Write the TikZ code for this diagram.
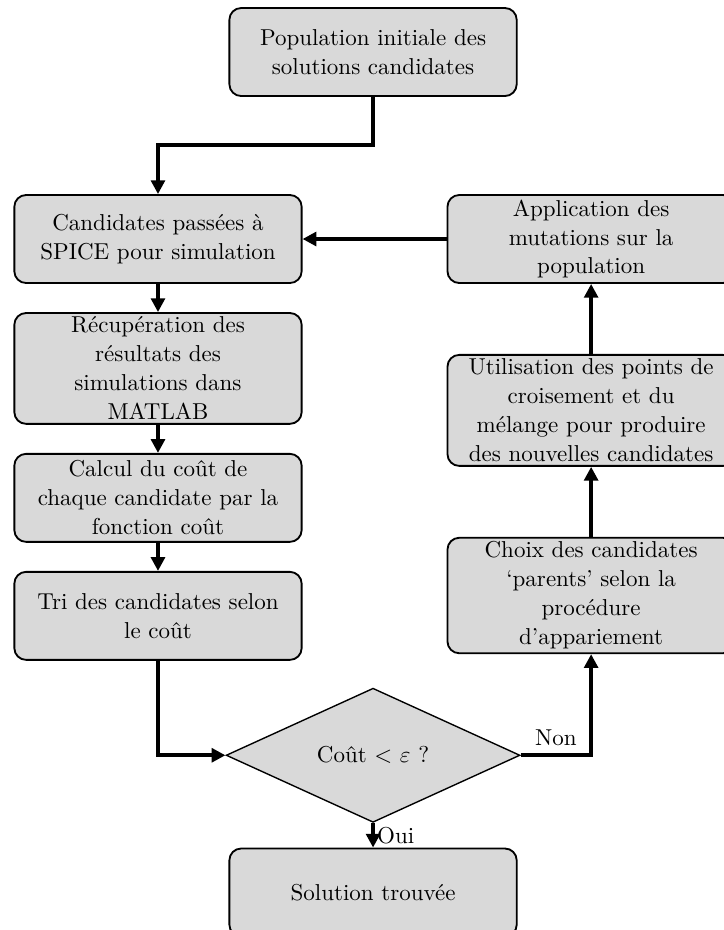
\documentclass[tikz,border=0pt]{standalone}
\usepackage{amsmath}
\usepackage{amssymb}
\usepackage{tikz}
\usepackage{xcolor}
\usetikzlibrary{arrows.meta, positioning, shapes.geometric, calc}
\definecolor{boxgray}{RGB}{217,217,217}
\begin{document}
\begin{tikzpicture}[
    node distance=0.43cm and 2.2cm,
    procbox/.style={draw, thick, rounded corners=0.18cm, align=center, font=\fontsize{10}{12.6}\selectfont, minimum width=4.39cm, minimum height=1.345cm, inner xsep=2pt, inner ysep=0.06cm, fill=boxgray},
    decision/.style={draw, semithick, diamond, minimum width=4.49cm, minimum height=2.05cm, inner sep=0pt, fill=boxgray},
    arr/.style={-{Triangle[length=6pt, width=6pt]}, line width=1.6pt}
]
\useasboundingbox (0,0) rectangle (11.05,-14.21);
\node[procbox] (start) at (5.70,-0.795) {Population initiale des\\solutions candidates};
\node[procbox] (cand) at (2.414,-3.652) {Candidates passées à\\SPICE pour simulation};
\node[procbox, below=of cand] (recup) {Récupération des\\résultats des\\simulations dans\\MATLAB};
\node[procbox, below=of recup] (cost) {Calcul du coût de\\chaque candidate par la\\fonction coût};
\node[procbox, below=of cost] (sort) {Tri des candidates selon\\le coût};
\node[procbox, right=of cand] (mut) {Application des\\mutations sur la\\population};
\node[procbox, below=1.07cm of mut] (cross) {Utilisation des points de\\croisement et du\\mélange pour produire\\des nouvelles candidates};
\node[procbox, below=1.07cm of cross] (choice) {Choix des candidates\\`parents' selon la\\procédure\\d'appariement};
\node[decision] (dec) at (5.70,-11.54) {Coût $<$ $\varepsilon$ ?};
\node[procbox, below=0.375cm of dec] (found) {Solution trouvée};

\draw[arr] (start.south) -- ++(0,-0.73) -| (cand.north);
\draw[arr] (mut.west) -- (cand.east);
\draw[arr] (cand) -- (recup);
\draw[arr] (recup) -- (cost);
\draw[arr] (cost) -- (sort);
\draw[arr] (sort.south) |- (dec.west);
\draw[arr] (dec.east) -| node[pos=0.25, above] {Non} (choice.south);
\draw[arr] (choice) -- (cross);
\draw[arr] (cross) -- (mut);
\draw[arr] (dec.south) -- node[right, inner sep=1pt] {Oui} (found.north);
\end{tikzpicture}
\end{document}
